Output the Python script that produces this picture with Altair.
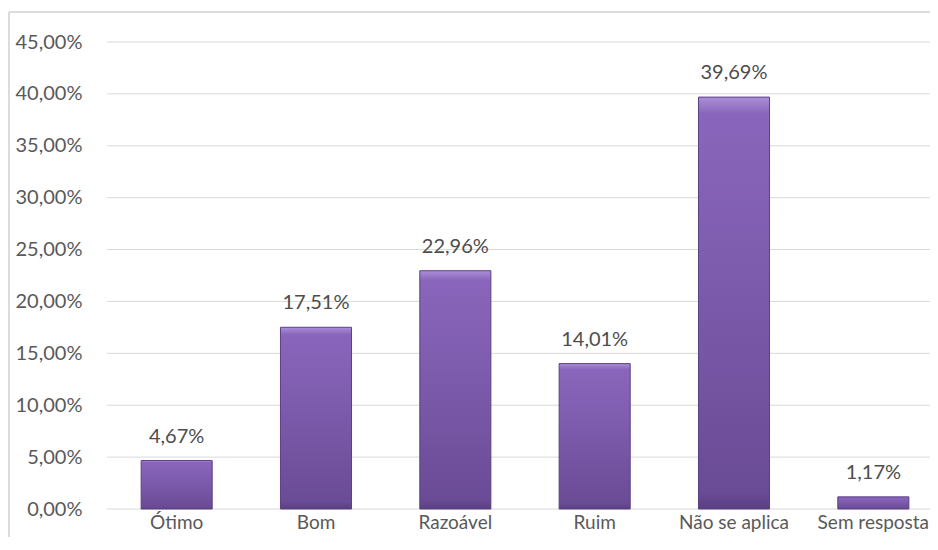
import altair as alt
import pandas as pd

categories = ["Ótimo", "Bom", "Razoável", "Ruim", "Não se aplica", "Sem resposta"]
values = [0.0467, 0.1751, 0.2296, 0.1401, 0.3969, 0.0117]
y_ticks = [0.0, 0.05, 0.10, 0.15, 0.20, 0.25, 0.30, 0.35, 0.40, 0.45]

FONT = "Lato"
LABEL_COLOR = "#595959"
GRID_COLOR = "#d9d9d9"

df = pd.DataFrame({"cat": categories, "v": values})
grid_df = pd.DataFrame({"t": y_ticks})
one_df = pd.DataFrame({"a": [0]})

fmt = "replace(format(datum.value, '.2%'), '.', ',')"

x_enc = alt.X(
    "cat:N",
    sort=categories,
    scale=alt.Scale(range=[0, 836], paddingInner=0.49, paddingOuter=0.245),
    axis=alt.Axis(
        title=None, labelAngle=0, ticks=False, domain=False, labelPadding=4,
        labelFontSize=19, labelColor=LABEL_COLOR, labelFont=FONT, grid=False,
    ),
)

y_axis = alt.Axis(
    title=None, values=y_ticks, grid=False, domain=False, ticks=False,
    labelPadding=25, labelExpr=fmt, labelFontSize=20, labelColor=LABEL_COLOR,
    labelFont=FONT,
)
y_scale = alt.Scale(domain=[0, 0.45], nice=False, zero=True)

grid = alt.Chart(grid_df).mark_rule(color=GRID_COLOR, strokeWidth=1).encode(
    y=alt.Y("t:Q", scale=y_scale, axis=y_axis),
    x=alt.value(0),
    x2=alt.value(900),
)

bar_gradient = alt.Gradient(
    gradient="linear",
    stops=[
        alt.GradientStop(color="#ab8ed8", offset=0.0),
        alt.GradientStop(color="#8966bb", offset=0.04),
        alt.GradientStop(color="#7b59aa", offset=0.5),
        alt.GradientStop(color="#6a4b95", offset=0.96),
        alt.GradientStop(color="#5a3f82", offset=1.0),
    ],
    x1=0, x2=0, y1=0, y2=1,
)

bars = alt.Chart(df).mark_bar(color=bar_gradient, stroke="#5b4183", strokeWidth=1).encode(
    x=x_enc,
    y=alt.Y("v:Q", scale=y_scale, axis=y_axis),
)

labels = alt.Chart(df).transform_calculate(
    lbl="replace(format(datum.v, '.2%'), '.', ',')"
).mark_text(
    baseline="alphabetic", dy=-18, fontSize=20, font=FONT, color="#4d4d4d"
).encode(
    x=x_enc,
    y=alt.Y("v:Q", scale=y_scale, axis=y_axis),
    text="lbl:N",
)

border_v = alt.Chart(one_df).mark_rule(color="#d0d0d0", strokeWidth=1.5).encode(
    x=alt.value(-98), y=alt.value(-30), y2=alt.value(700)
)
border_h = alt.Chart(one_df).mark_rule(color="#d0d0d0", strokeWidth=1.5).encode(
    x=alt.value(-98), x2=alt.value(900), y=alt.value(-30)
)

chart = alt.layer(grid, bars, labels, border_v, border_h).properties(
    width=823,
    height=467,
    autosize=alt.AutoSizeParams(type="none"),
    padding={"left": 99, "top": 34, "right": 0, "bottom": 28},
    background="white",
).configure_view(stroke=None)

chart.save("out.html", embed_options={"renderer": "svg", "actions": False})
